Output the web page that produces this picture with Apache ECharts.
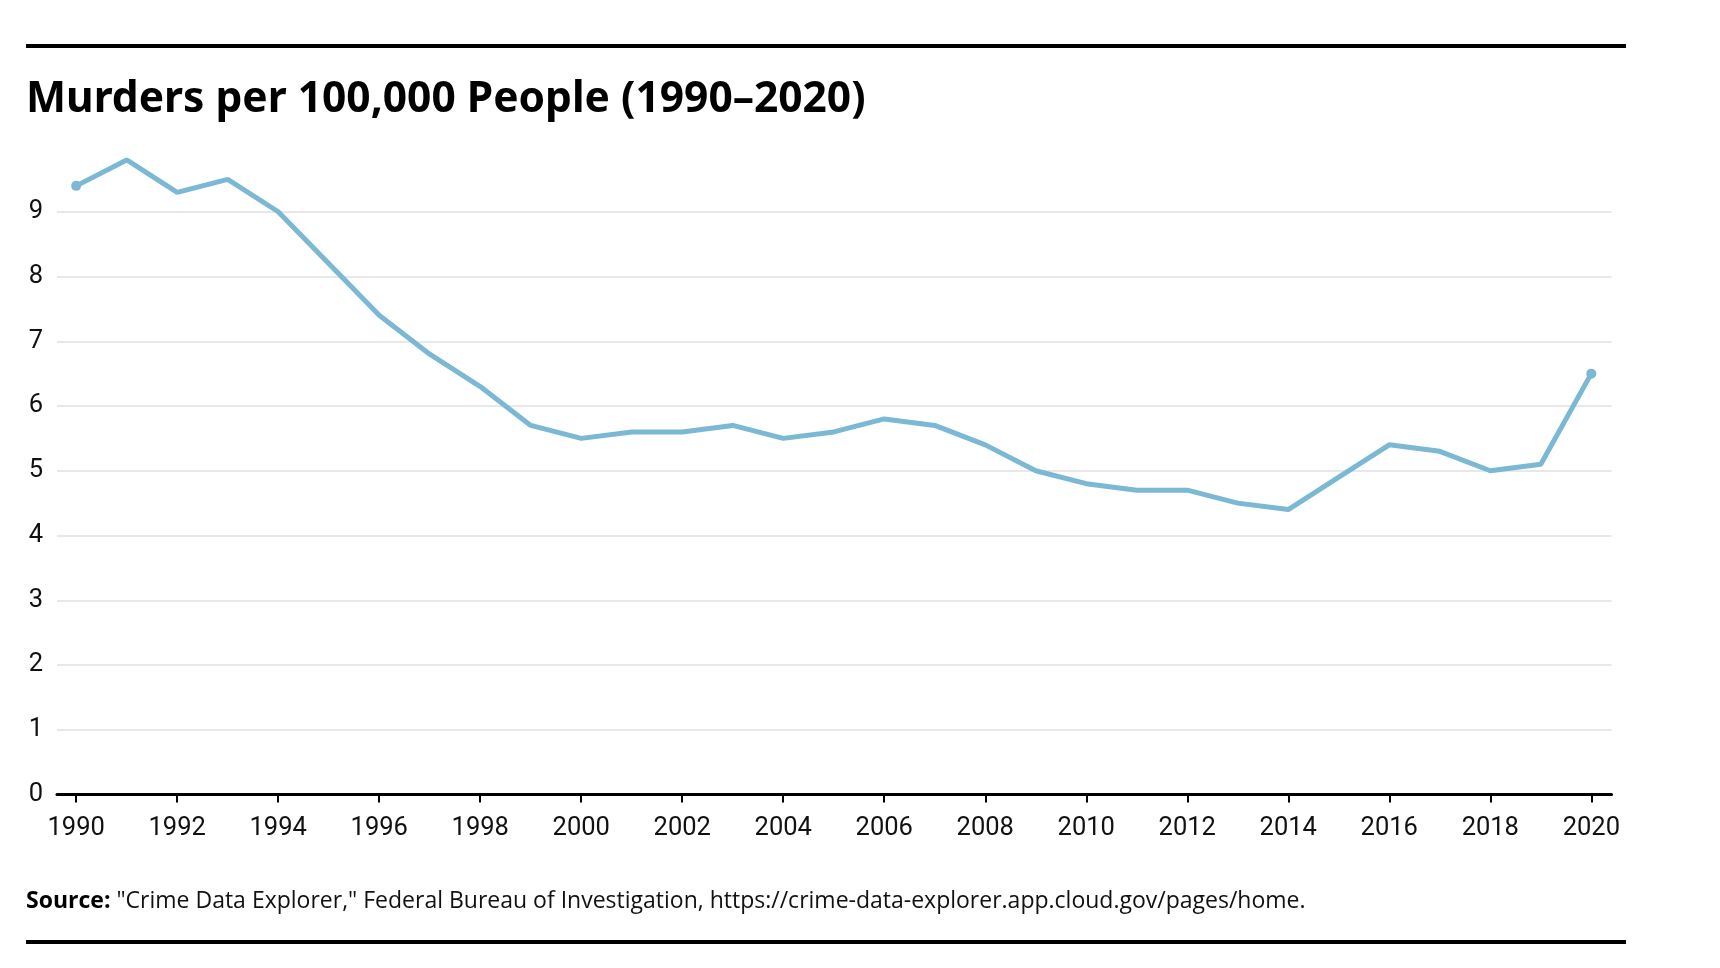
<!DOCTYPE html>
<html>
<head>
<meta charset="utf-8">
<script src="https://cdn.jsdelivr.net/npm/echarts@6/dist/echarts.min.js"></script>
<style>
html,body{margin:0;padding:0;background:#fff;}
#chart{width:1720px;height:968px;}
</style>
</head>
<body>
<div id="chart"></div>
<script>
const titleText = 'Murders per 100,000 People (1990\u20132020)';
const sourceLabel = 'Source:';
const sourceText = ' "Crime Data Explorer," Federal Bureau of Investigation, https://crime-data-explorer.app.cloud.gov/pages/home.';
const years = [1990,1991,1992,1993,1994,1995,1996,1997,1998,1999,2000,2001,2002,2003,2004,2005,2006,2007,2008,2009,2010,2011,2012,2013,2014,2015,2016,2017,2018,2019,2020];
const murderRate = [9.4,9.8,9.3,9.5,9.0,8.2,7.4,6.8,6.3,5.7,5.5,5.6,5.6,5.7,5.5,5.6,5.8,5.7,5.4,5.0,4.8,4.7,4.7,4.5,4.4,4.9,5.4,5.3,5.0,5.1,6.5];
const xTickYears = [1990,1992,1994,1996,1998,2000,2002,2004,2006,2008,2010,2012,2014,2016,2018,2020];
const yTicks = [0,1,2,3,4,5,6,7,8,9];

const chart = echarts.init(document.getElementById('chart'), null, {renderer:'canvas'});
const lastIdx = murderRate.length - 1;
const labelFont = 'Roboto';

chart.setOption({
  animation: false,
  backgroundColor: '#ffffff',
  grid: { left: 57, right: 1720 - 1611.5, top: 147, bottom: 968 - 794.5, containLabel: false },
  xAxis: {
    type: 'value',
    min: 1989.62,
    max: 2020.4,
    axisLine: { show: true, lineStyle: { color: '#000', width: 3 } },
    axisTick: { show: true, length: 8, lineStyle: { color: '#000', width: 2 }, customValues: xTickYears },
    axisLabel: { customValues: xTickYears, formatter: v => String(v), color: '#111', fontFamily: labelFont, fontSize: 25.5, margin: 21 },
    splitLine: { show: false }
  },
  yAxis: {
    type: 'value',
    min: 0,
    max: 10,
    interval: 1,
    axisLine: { show: false },
    axisTick: { show: false },
    axisLabel: { customValues: yTicks, formatter: v => String(v), color: '#111', fontFamily: labelFont, fontSize: 25.5, margin: 14 },
    splitLine: { show: true, showMinLine: false, showMaxLine: false, lineStyle: { color: '#e0e0e0', width: 1.5 } }
  },
  series: [{
    type: 'line',
    data: years.map((y, i) => [y, murderRate[i]]),
    lineStyle: { color: '#7ab8d4', width: 5 },
    itemStyle: { color: '#7ab8d4' },
    symbol: 'circle',
    showSymbol: true,
    showAllSymbol: true,
    symbolSize: (v, p) => (p.dataIndex === 0 || p.dataIndex === lastIdx) ? 10 : 0,
    silent: true
  }],
  graphic: [
    { type: 'rect', shape: { x: 26, y: 44, width: 1600, height: 4 }, style: { fill: '#000' } },
    { type: 'rect', shape: { x: 26, y: 940, width: 1600, height: 4 }, style: { fill: '#000' } },
    { type: 'text', x: 26, y: 100, style: { text: titleText, fill: '#000', font: 'bold 42.5px "Noto Sans"', verticalAlign: 'middle', align: 'left' } },
    { type: 'text', x: 26, y: 901, style: {
        text: '{b|' + sourceLabel + '}{r|' + sourceText + '}',
        verticalAlign: 'middle', align: 'left',
        rich: {
          b: { fontFamily: 'Open Sans', fontWeight: 'bold', fontSize: 23, fill: '#000' },
          r: { fontFamily: 'Open Sans', fontSize: 23, fill: '#111' }
        }
    } }
  ]
});
</script>
</body>
</html>
